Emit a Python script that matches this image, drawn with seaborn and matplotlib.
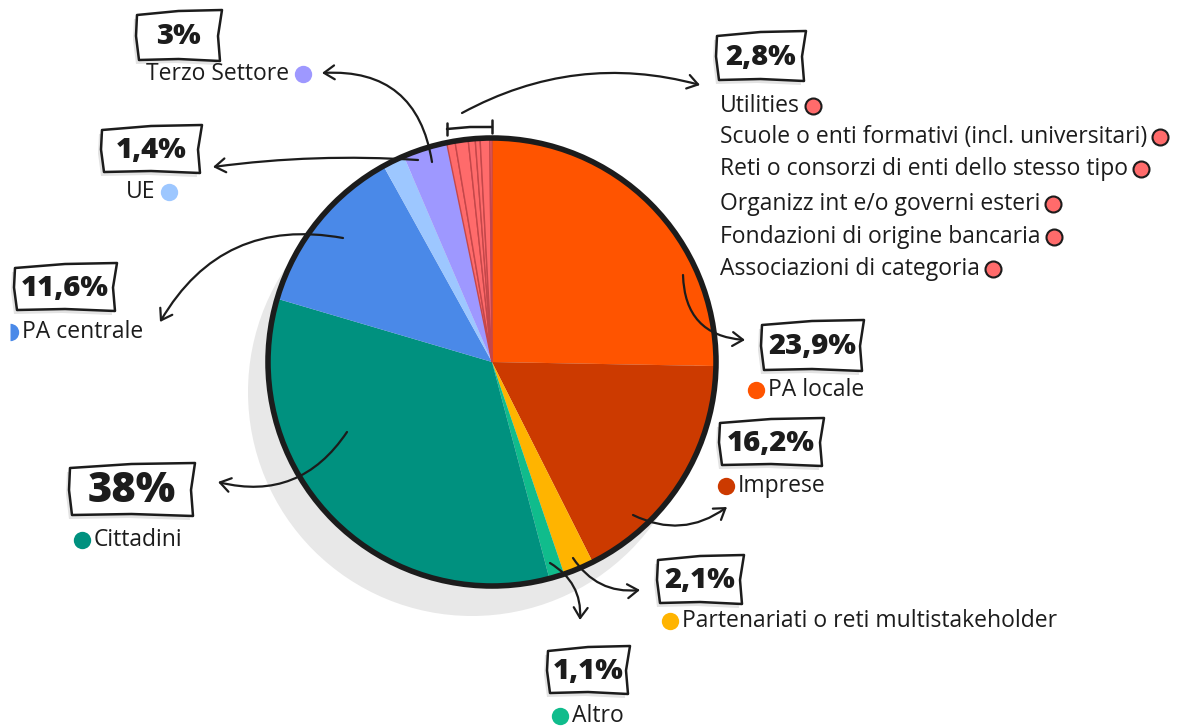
"""
Destinatari - pie chart with hand-drawn callouts
"""

import matplotlib
matplotlib.use('Agg')
import matplotlib.pyplot as plt
from matplotlib.patches import Circle, Polygon, FancyArrowPatch
import seaborn as sns

# Data
CATEGORIES = ['PA locale', 'Imprese', 'Partenariati o reti multistakeholder',
              'Altro', 'Cittadini', 'PA centrale', 'UE', 'Terzo Settore',
              'Associazioni di categoria', 'Fondazioni di origine bancaria',
              'Organizz int e/o governi esteri',
              'Reti o consorzi di enti dello stesso tipo',
              'Scuole o enti formativi (incl. universitari)', 'Utilities']
# percentages printed in the boxes
LABEL_PCT = [23.9, 16.2, 2.1, 1.1, 38, 11.6, 1.4, 3]
GROUP_PCT = 2.8
SLICE_SHARE = [25.3, 17.3, 2.2, 1.1, 33.7, 12.4, 1.6, 3.2,
               0.6, 0.95, 0.5, 0.35, 0.7, 0.15]
COLORS = ['#FF5400', '#CC3A00', '#FFB400', '#10BC8C', '#00917F', '#4A89E8',
          '#9DC7FF', '#9E98FF'] + ['#FF6B6B'] * 6

# the six small categories share one callout
GROUP_LABELS = ['Utilities', 'Scuole o enti formativi (incl. universitari)',
                'Reti o consorzi di enti dello stesso tipo',
                'Organizz int e/o governi esteri',
                'Fondazioni di origine bancaria', 'Associazioni di categoria']

W, H = 1193, 726
INK = '#1c1c1c'

sns.set_theme(style='white')
plt.rcParams['font.family'] = ['Open Sans', 'DejaVu Sans']


def P(x, y):
    """pixel coords (y down) -> data coords (y up)"""
    return (x, H - y)


def fmt(v):
    return f'{v:g}'.replace('.', ',') + '%'


def sketch_box(ax, x0, y0, x1, y1):
    """Hand-drawn looking box with a soft grey shadow."""
    pts = [(x0, y0 + 3), ((x0 + x1) / 2, y0 - 1), (x1 + 2, y0 - 2),
           (x1 - 2, (y0 + y1) / 2), (x1, y1 + 1), ((x0 + x1) / 2, y1 - 1),
           (x0 + 2, y1), (x0 - 1, (y0 + y1) / 2)]
    shadow = [P(x - 3, y + 4) for x, y in pts]
    ax.add_patch(Polygon(shadow, closed=True, fc='#e3e3e3', ec='none', zorder=5))
    ax.add_patch(Polygon([P(x, y) for x, y in pts], closed=True, fc='white',
                         ec=INK, lw=1.8, joinstyle='round', zorder=6))


def arrow(ax, start, end, rad):
    ax.add_patch(FancyArrowPatch(P(*start), P(*end),
                                 connectionstyle=f'arc3,rad={rad}',
                                 arrowstyle='->,head_length=7.5,head_width=5',
                                 color=INK, lw=1.6, zorder=7,
                                 shrinkA=0, shrinkB=0))


fig = plt.figure(figsize=(W / 100, H / 100), dpi=100)
ax = fig.add_axes([0, 0, 1, 1])

# shadow + pie
cx, cy, R = 492, 362, 224
ax.add_patch(Circle(P(cx - 20, cy + 30), R, fc='#e8e8e8', ec='none', zorder=1))
wedges, _ = ax.pie(SLICE_SHARE, colors=COLORS, startangle=90,
                   counterclock=False, center=P(cx, cy), radius=R, frame=True,
                   wedgeprops=dict(lw=0, zorder=2))
for w in wedges[8:]:
    w.set_edgecolor('#c4474a')
    w.set_linewidth(1.0)
ax.add_patch(Circle(P(cx, cy), R, fill=False, ec=INK, lw=4, zorder=4))
ax.set_xlim(0, W)
ax.set_ylim(0, H)
ax.set_aspect('equal')
ax.axis('off')

# percentage boxes: (value, box, fontsize)
boxes = [
    (LABEL_PCT[7], (137, 12, 220, 60), 21),
    (GROUP_PCT, (717, 33, 804, 80), 21),
    (LABEL_PCT[6], (102, 127, 200, 172), 21),
    (LABEL_PCT[5], (15, 265, 115, 310), 21),
    (LABEL_PCT[0], (762, 322, 862, 370), 21),
    (LABEL_PCT[1], (720, 420, 822, 465), 21),
    (LABEL_PCT[4], (70, 465, 193, 515), 30),
    (LABEL_PCT[2], (658, 557, 742, 603), 21),
    (LABEL_PCT[3], (548, 648, 628, 693), 21),
]
for v, (x0, y0, x1, y1), fs in boxes:
    sketch_box(ax, x0, y0, x1, y1)
    ax.text(*P((x0 + x1) / 2, (y0 + y1) / 2 + 1), fmt(v), ha='center',
            va='center', fontsize=fs, fontweight='heavy', color=INK, zorder=8)

LBL = 16.5
DOT = 12.5

# labels with the dot on the left
left_dot = [(0, 756, 390), (1, 726, 486), (4, 82, 540), (2, 670, 621),
            (3, 560, 716)]
for i, dx, dy in left_dot:
    ax.plot(*P(dx, dy), 'o', ms=DOT, color=COLORS[i], mec='none', zorder=8,
            clip_on=False)
    ax.text(*P(dx + 12, dy), CATEGORIES[i], ha='left', va='center',
            fontsize=LBL, color=INK, zorder=8)

# PA centrale: its dot is cut by the left edge, only the right half shows
ax.plot(*P(10, 332), 'o', ms=DOT, color=COLORS[5], fillstyle='right',
        markerfacecoloralt='none', mec='none', zorder=8)
ax.text(*P(22, 332), CATEGORIES[5], ha='left', va='center', fontsize=LBL,
        color=INK, zorder=8)

# labels with the dot on the right
right_dot = [(7, 303, 74), (6, 169, 192)]
for i, dx, dy in right_dot:
    ax.plot(*P(dx, dy), 'o', ms=DOT, color=COLORS[i], mec='none', zorder=8)
    ax.text(*P(dx - 14, dy), CATEGORIES[i], ha='right', va='center',
            fontsize=LBL, color=INK, zorder=8)

# grouped small categories
renderer = fig.canvas.get_renderer()
group_y = [106, 137, 169, 204, 237, 269]
for name, gy in zip(GROUP_LABELS, group_y):
    t = ax.text(*P(720, gy), name, ha='left', va='center', fontsize=LBL,
                color=INK, zorder=8)
    x_end = t.get_window_extent(renderer).x1
    ax.plot(*P(x_end + 13, gy), 'o', ms=DOT - 1, color='#FF6B6B', mec=INK,
            mew=1.5, zorder=8)

# bracket over the small slices
ax.plot([447, 447], [H - 123, H - 135], color=INK, lw=1.8, zorder=7)
ax.plot([492, 492], [H - 120, H - 133], color=INK, lw=1.8, zorder=7)
ax.plot([447, 470, 492], [H - 129, H - 127, H - 127], color=INK, lw=1.8,
        zorder=7)

# arrows
arrow(ax, (432, 162), (322, 73), 0.45)
arrow(ax, (462, 113), (700, 85), -0.2)
arrow(ax, (418, 160), (213, 167), 0.05)
arrow(ax, (343, 238), (160, 322), 0.35)
arrow(ax, (347, 432), (218, 482), -0.35)
arrow(ax, (683, 275), (745, 340), 0.45)
arrow(ax, (633, 515), (727, 507), 0.3)
arrow(ax, (573, 558), (640, 590), 0.3)
arrow(ax, (550, 563), (580, 620), -0.3)

fig.savefig('out.png', dpi=100)
plt.close(fig)
